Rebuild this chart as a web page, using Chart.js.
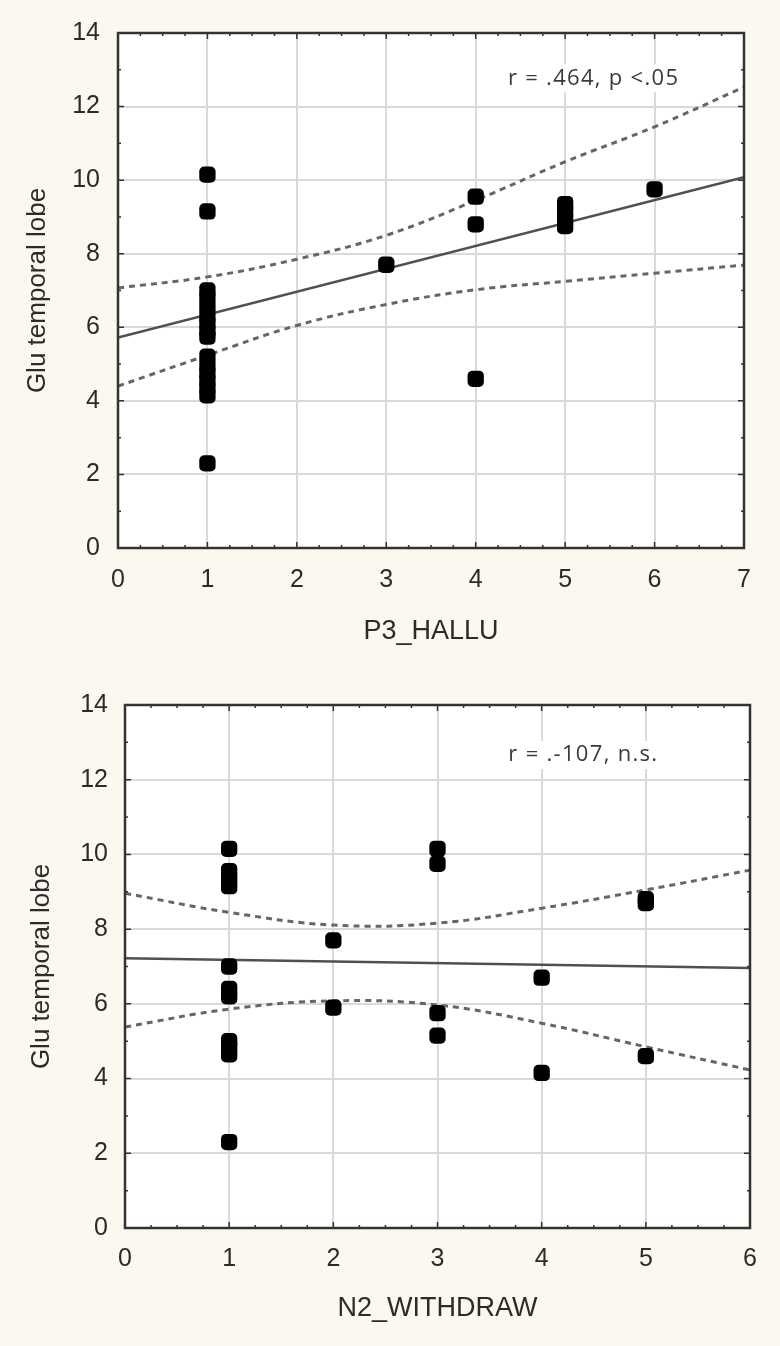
<!DOCTYPE html>
<html>
<head>
<meta charset="utf-8">
<script src="https://cdn.jsdelivr.net/npm/chart.js"></script>
<style>
	body { margin: 0; background: #fbf8ef; width: 780px; height: 1346px; overflow: hidden; }
	.panel { position: absolute; left: 0; width: 780px; }
</style>
</head>
<body>
<div class="panel" style="top: 0; height: 660px;"><canvas id="hallu" width="780" height="660"></canvas></div>
<div class="panel" style="top: 660px; height: 686px;"><canvas id="withdraw" width="780" height="686"></canvas></div>
<script>
// shared y axis
const yTicks = [0, 2, 4, 6, 8, 10, 12, 14];
const yTitle = "Glu temporal lobe";

// --- top panel : P3_HALLU ---
const halluTicks = [0, 1, 2, 3, 4, 5, 6, 7];
const halluX = [1, 1, 1, 1, 1, 1, 1, 1, 1, 1, 1, 1, 1, 1, 1, 1, 3, 4, 4, 4, 5, 5, 5, 5, 6];
const halluY = [10.15, 9.15, 7.0, 6.8, 6.55, 6.3, 6.1, 5.9, 5.75, 5.2, 4.95, 4.75, 4.55, 4.35, 4.15, 2.3, 7.7, 9.55, 8.8, 4.6, 9.35, 9.15, 8.95, 8.75, 9.75];
const halluFitX = [0, 7];
const halluFitY = [5.72, 10.08];
const halluBandX = [0, 1, 2, 3, 4, 5, 6, 7];
const halluUpper = [7.07, 7.37, 7.85, 8.5, 9.45, 10.5, 11.45, 12.53];
const halluLower = [4.4, 5.24, 6.05, 6.62, 7.02, 7.25, 7.47, 7.69];
const halluNote = "r = .464, p <.05";
const halluNoteAt = [4.36, 12.77];

// --- bottom panel : N2_WITHDRAW ---
const withdrawTicks = [0, 1, 2, 3, 4, 5, 6];
const withdrawX = [1, 1, 1, 1, 1, 1, 1, 1, 1, 1, 1, 2, 2, 3, 3, 3, 3, 4, 4, 5, 5, 5];
const withdrawY = [10.15, 9.55, 9.35, 9.15, 7.0, 6.4, 6.2, 5.0, 4.85, 4.65, 2.3, 7.7, 5.9, 10.15, 9.75, 5.75, 5.15, 6.7, 4.15, 8.8, 8.7, 4.6];
const withdrawFitX = [0, 6];
const withdrawFitY = [7.22, 6.96];
const withdrawBandX = [0, 1, 2, 3, 4, 5, 6];
const withdrawUpper = [8.96, 8.45, 8.11, 8.16, 8.56, 9.05, 9.58];
const withdrawLower = [5.38, 5.86, 6.08, 5.97, 5.48, 4.85, 4.23];
const withdrawNote = "r = .-107, n.s.";
const withdrawNoteAt = [3.68, 12.66];

Chart.defaults.font.family = '"Liberation Sans", Arial, sans-serif';
Chart.defaults.color = '#2b2b2b';

function pairs(xs, ys) {
	return xs.map((x, i) => ({ x: x, y: ys[i] }));
}

// white plot area, box with inward ticks, r/p note
const framePlugin = {
	id: 'frame',
	beforeDraw: function (chart) {
		const a = chart.chartArea;
		chart.ctx.save();
		chart.ctx.fillStyle = '#ffffff';
		chart.ctx.fillRect(a.left, a.top, a.width, a.height);
		chart.ctx.restore();
	},
	afterDraw: function (chart, args, opts) {
		const ctx = chart.ctx;
		const a = chart.chartArea;
		const x = chart.scales.x;
		const y = chart.scales.y;
		ctx.save();

		// note
		ctx.font = '22px "Open Sans", sans-serif';
		ctx.letterSpacing = '1.3px';
		const nx = x.getPixelForValue(opts.noteAt[0]);
		const ny = y.getPixelForValue(opts.noteAt[1]);
		const w = ctx.measureText(opts.note).width;
		ctx.fillStyle = '#ffffff';
		ctx.fillRect(nx - 3, ny - 14, w + 6, 28);
		ctx.fillStyle = '#3a3a3a';
		ctx.textBaseline = 'middle';
		ctx.fillText(opts.note, nx, ny);

		// tick marks on all four sides
		ctx.strokeStyle = '#333';
		ctx.lineWidth = 1.5;
		ctx.beginPath();
		for (let v = x.min; v <= x.max + 1e-6; v += 0.25) {
			const px = x.getPixelForValue(v);
			const len = Math.abs(v - Math.round(v)) < 1e-6 ? 6 : 3;
			ctx.moveTo(px, a.bottom); ctx.lineTo(px, a.bottom - len);
			ctx.moveTo(px, a.top); ctx.lineTo(px, a.top + len);
		}
		for (let v = y.min; v <= y.max + 1e-6; v += 1) {
			const py = y.getPixelForValue(v);
			const len = v % 2 === 0 ? 6 : 3;
			ctx.moveTo(a.left, py); ctx.lineTo(a.left + len, py);
			ctx.moveTo(a.right, py); ctx.lineTo(a.right - len, py);
		}
		ctx.stroke();

		ctx.lineWidth = 2.5;
		ctx.strokeRect(a.left, a.top, a.width, a.height);
		ctx.restore();
	}
};

function makeChart(id, p) {
	return new Chart(document.getElementById(id), {
		type: 'scatter',
		data: {
			datasets: [
				{
					data: pairs(p.xs, p.ys),
					backgroundColor: '#000',
					borderWidth: 0,
					pointStyle: 'rectRounded',
					pointRadius: 9.5,
				},
				{
					type: 'line',
					data: pairs(p.fitX, p.fitY),
					borderColor: '#505050',
					borderWidth: 2.5,
					pointRadius: 0,
				},
				{
					type: 'line',
					data: pairs(p.bandX, p.upper),
					borderColor: '#666',
					borderWidth: 3,
					borderDash: [6, 5],
					tension: 0.4,
					pointRadius: 0,
				},
				{
					type: 'line',
					data: pairs(p.bandX, p.lower),
					borderColor: '#666',
					borderWidth: 3,
					borderDash: [6, 5],
					tension: 0.4,
					pointRadius: 0,
				},
			]
		},
		options: {
			responsive: false,
			animation: false,
			layout: { padding: { top: p.top, right: p.right, left: 0, bottom: 0 } },
			plugins: {
				legend: { display: false },
				tooltip: { enabled: false },
				frame: { note: p.note, noteAt: p.noteAt },
			},
			scales: {
				x: {
					type: 'linear',
					min: p.xTicks[0],
					max: p.xTicks[p.xTicks.length - 1],
					afterBuildTicks: (s) => { s.ticks = p.xTicks.map(v => ({ value: v })); },
					afterFit: (s) => { s.height = p.xHeight; },
					ticks: { font: { size: 25 }, padding: p.xPad, maxRotation: 0, autoSkip: false },
					grid: { color: '#d9d9d9', lineWidth: 2, drawTicks: false },
					border: { display: false },
					title: { display: true, text: p.xTitle, font: { size: 27 }, padding: { top: 0, bottom: p.xTitlePad } },
				},
				y: {
					type: 'linear',
					min: 0,
					max: 14,
					afterBuildTicks: (s) => { s.ticks = yTicks.map(v => ({ value: v })); },
					afterFit: (s) => { s.width = p.yWidth; },
					ticks: { font: { size: 25 }, padding: p.yPad },
					grid: { color: '#d9d9d9', lineWidth: 2, drawTicks: false },
					border: { display: false },
					title: { display: true, text: yTitle, font: { size: 26 }, padding: { top: p.yTitlePad, bottom: 0 } },
				},
			},
		},
		plugins: [framePlugin]
	});
}

makeChart('hallu', {
	xs: halluX, ys: halluY, fitX: halluFitX, fitY: halluFitY,
	bandX: halluBandX, upper: halluUpper, lower: halluLower,
	note: halluNote, noteAt: halluNoteAt,
	xTicks: halluTicks, xTitle: "P3_HALLU",
	top: 27, right: 36, yWidth: 118, xHeight: 112,
	xPad: 17, xTitlePad: 12, yPad: 18, yTitlePad: 22,
});

makeChart('withdraw', {
	xs: withdrawX, ys: withdrawY, fitX: withdrawFitX, fitY: withdrawFitY,
	bandX: withdrawBandX, upper: withdrawUpper, lower: withdrawLower,
	note: withdrawNote, noteAt: withdrawNoteAt,
	xTicks: withdrawTicks, xTitle: "N2_WITHDRAW",
	top: 45, right: 30, yWidth: 125, xHeight: 118,
	xPad: 16, xTitlePad: 21, yPad: 17, yTitlePad: 26,
});
</script>
</body>
</html>
